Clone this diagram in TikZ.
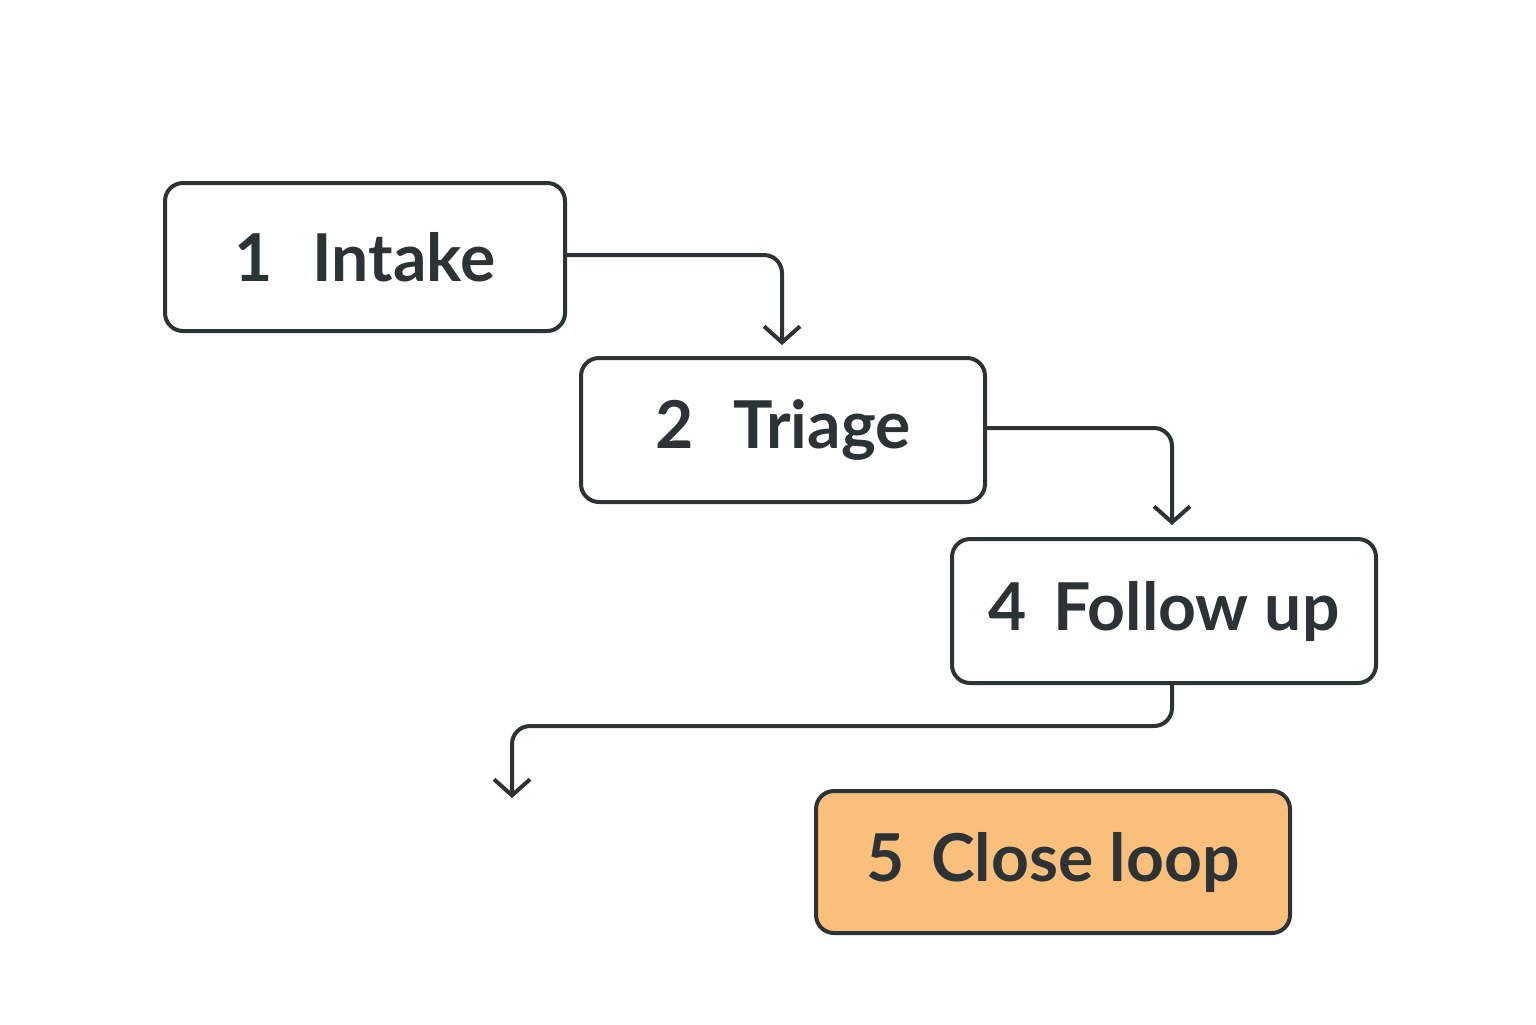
\documentclass[tikz,border=0pt]{standalone}
\usepackage{fontspec}
\setmainfont{Lato}
\usetikzlibrary{arrows.meta}
\definecolor{ink}{HTML}{2B3336}
\definecolor{peach}{HTML}{FBBF7C}
\begin{document}
\begin{tikzpicture}[x=0.5pt,y=-0.5pt,
  box/.style={draw=ink,line width=2pt,rounded corners=9pt,fill=white,inner sep=0pt,font=\fontsize{33}{36}\selectfont\bfseries,text=ink},
  conn/.style={draw=ink,line width=2pt,rounded corners=9pt,-{Straight Barb[length=8pt,width=18pt,line width=2pt]}}]
\useasboundingbox (0,0) rectangle (1536,1024);
\node[box,minimum width=200pt,minimum height=74pt] (a) at (365,257) {1\hspace{0.6em}Intake};
\node[box,minimum width=202pt,minimum height=72pt] (b) at (783,430) {2\hspace{0.6em}Triage};
\node[box,minimum width=212pt,minimum height=72pt] (c) at (1164,611) {4\hspace{0.4em}Follow up};
\node[box,fill=peach,minimum width=237pt,minimum height=71pt] (d) at (1053,862) {5\hspace{0.4em}Close loop};
\coordinate (e) at (512,798);
\draw[conn] (a.east |- 0,255) -- (782,255) -- (782,345);
\draw[conn] (b.east |- 0,428) -- (1172,428) -- (1172,525);
\draw[conn] (c.south -| 1172,0) -- (1172,726) -- (512,726) -- (e);
\end{tikzpicture}
\end{document}
